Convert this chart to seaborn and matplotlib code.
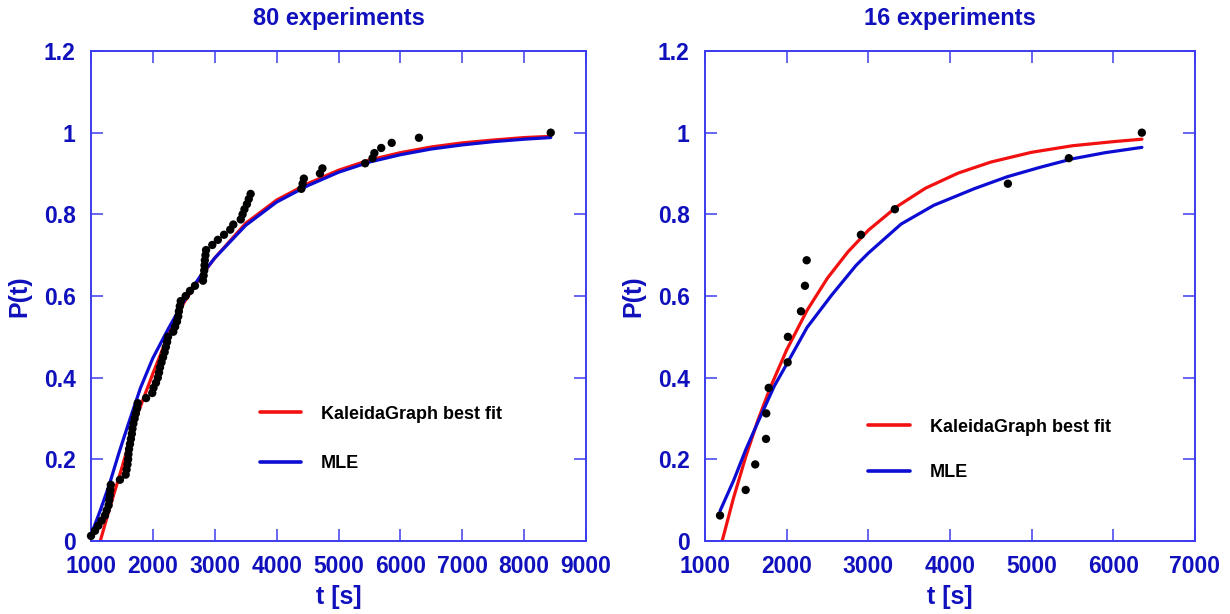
import numpy as np
import pandas as pd
import matplotlib
matplotlib.use("Agg")
import matplotlib.pyplot as plt
import seaborn as sns

# ---- 80 experiments: sorted completion times [s] (empirical CDF, P = i/80)
times_80 = [1000, 1065, 1118, 1172, 1226, 1253, 1285, 1295, 1305, 1312,
            1320, 1468, 1560, 1575, 1590, 1600, 1605, 1615, 1630, 1645,
            1660, 1670, 1685, 1705, 1725, 1745, 1755, 1890, 1990, 2010,
            2050, 2080, 2100, 2115, 2140, 2165, 2190, 2210, 2230, 2245,
            2330, 2360, 2390, 2410, 2420, 2435, 2450, 2530, 2600, 2680,
            2810, 2820, 2830, 2835, 2840, 2850, 2860, 2960, 3050, 3150,
            3250, 3300, 3420, 3450, 3480, 3520, 3550, 3580, 4400, 4420,
            4440, 4700, 4740, 5430, 5550, 5580, 5690, 5860, 6300, 8430]

# fitted curves, 80 experiments
fit80_t = [1150, 1300, 1500, 1750, 2000, 2250, 2500, 2750, 3000, 3500,
           4000, 4500, 5000, 5500, 6000, 6500, 7000, 7500, 8000, 8430]
fit80_p = [0.0, 0.08, 0.18, 0.31, 0.41, 0.505, 0.583, 0.642, 0.693, 0.778,
           0.835, 0.875, 0.908, 0.933, 0.951, 0.965, 0.975, 0.982, 0.988, 0.991]
mle80_t = [1000, 1150, 1300, 1450, 1600, 1800, 2000, 2250, 2500, 2750,
           3000, 3500, 4000, 4500, 5000, 5500, 6000, 6500, 7000, 7500,
           8000, 8430]
mle80_p = [0.015, 0.075, 0.140, 0.215, 0.285, 0.375, 0.448, 0.520, 0.587,
           0.645, 0.693, 0.773, 0.830, 0.870, 0.903, 0.928, 0.946, 0.960,
           0.970, 0.978, 0.984, 0.988]

# ---- 16 experiments
times_16 = [1184, 1498, 1615, 1747, 1750, 1780, 2012, 2015, 2175, 2224,
            2245, 2909, 3325, 4709, 5455, 6349]

fit16_t = [1210, 1350, 1500, 1650, 1800, 2000, 2250, 2500, 2750, 3000,
           3350, 3700, 4100, 4500, 5000, 5500, 6000, 6350]
fit16_p = [0.0, 0.106, 0.207, 0.297, 0.376, 0.468, 0.565, 0.644, 0.708,
           0.761, 0.819, 0.864, 0.901, 0.928, 0.952, 0.968, 0.978, 0.984]
mle16_t = [1185, 1350, 1500, 1650, 1850, 2000, 2250, 2550, 2850, 3000,
           3400, 3800, 4300, 4700, 5100, 5500, 5900, 6350]
mle16_p = [0.074, 0.148, 0.224, 0.292, 0.380, 0.433, 0.523, 0.602, 0.675,
           0.705, 0.776, 0.822, 0.863, 0.892, 0.915, 0.936, 0.951, 0.964]

y_ticks = [0, 0.2, 0.4, 0.6, 0.8, 1.0, 1.2]
y_ticklabels = ["0", "0.2", "0.4", "0.6", "0.8", "1", "1.2"]
x_ticks_80 = list(range(1000, 9001, 1000))
x_ticks_16 = list(range(1000, 7001, 1000))

labels = ["KaleidaGraph best fit", "MLE"]
titles = ["80 experiments", "16 experiments"]

RED = "#f21010"
BLUE = "#0c0cd2"
SPINE = "#3c3cf0"
TXT = "#1010bc"

sns.set_theme(style="ticks")
plt.rcParams["font.family"] = ["Liberation Sans", "DejaVu Sans"]
plt.rcParams["font.weight"] = "bold"

fig = plt.figure(figsize=(12.3, 6.14), dpi=100)
ax1 = fig.add_axes([91 / 1230, 73 / 614, 495 / 1230, 490 / 614])
ax2 = fig.add_axes([705 / 1230, 73 / 614, 490 / 1230, 490 / 614])


def ecdf_frame(times):
    n = len(times)
    return pd.DataFrame({"t": times, "P": [(i + 1) / n for i in range(n)]})


def curve_frame(t, p):
    return pd.DataFrame({"t": t, "P": p})


panels = [
    (ax1, times_80, fit80_t, fit80_p, mle80_t, mle80_p, x_ticks_80, (1000, 9000), titles[0],
     (0.341, 0.276), 1.8),
    (ax2, times_16, fit16_t, fit16_p, mle16_t, mle16_p, x_ticks_16, (1000, 7000), titles[1],
     (0.333, 0.250), 1.6),
]

for ax, times, ft, fp, mt, mp, xt, xlim, title, leg_pos, lspace in panels:
    sns.lineplot(data=curve_frame(ft, fp), x="t", y="P", ax=ax, color=RED,
                 linewidth=2.3, sort=False, estimator=None, label=labels[0], zorder=2)
    sns.lineplot(data=curve_frame(mt, mp), x="t", y="P", ax=ax, color=BLUE,
                 linewidth=2.3, sort=False, estimator=None, label=labels[1], zorder=3)
    sns.scatterplot(data=ecdf_frame(times), x="t", y="P", ax=ax, color="black",
                    s=36, edgecolor="none", zorder=4, clip_on=False)

    ax.set_xlim(*xlim)
    ax.set_ylim(0, 1.2)
    ax.set_xticks(xt)
    ax.set_xticklabels([str(v) for v in xt])
    ax.set_yticks(y_ticks)
    ax.set_yticklabels(y_ticklabels)
    ax.tick_params(axis="both", direction="in", length=8.5, width=1.1, color=SPINE,
                   labelcolor=TXT, labelsize=16.5, top=True, right=True)
    ax.tick_params(axis="y", pad=11)
    ax.tick_params(axis="x", pad=10)
    for lab in ax.get_xticklabels() + ax.get_yticklabels():
        lab.set_fontweight("bold")
    for sp in ax.spines.values():
        sp.set_visible(True)
        sp.set_color(SPINE)
        sp.set_linewidth(1.4)

    ax.set_xlabel("t [s]", fontsize=18, fontweight="bold", color=TXT, labelpad=5)
    ax.set_ylabel("P(t)", fontsize=18, fontweight="bold", color=TXT, labelpad=9)
    ax.set_title(title, fontsize=17, fontweight="bold", color=TXT, pad=19)

    leg = ax.legend(loc="upper left", bbox_to_anchor=leg_pos, frameon=False,
                    fontsize=13, handlelength=2.3, handletextpad=1.1,
                    labelspacing=lspace, borderpad=0, borderaxespad=0)
    for txt in leg.get_texts():
        txt.set_fontweight("bold")
        txt.set_color("black")
    for h in leg.legend_handles:
        h.set_linewidth(2.6)

fig.savefig("out.png", dpi=100, facecolor="white")
